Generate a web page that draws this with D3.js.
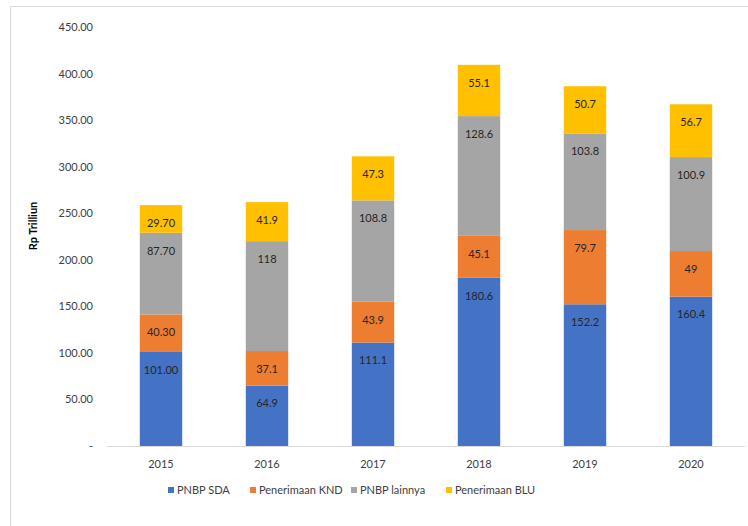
<!DOCTYPE html>
<html><head><meta charset="utf-8">
<script src="https://cdn.jsdelivr.net/npm/d3@7"></script>
<style>body{margin:0;background:#fff;}svg{display:block;font-family:Lato,"Liberation Sans",sans-serif;}</style>
</head><body>
<svg id="c" width="748" height="526"></svg>
<script>
const years = ["2015","2016","2017","2018","2019","2020"];
const seriesNames = ["PNBP SDA","Penerimaan KND","PNBP lainnya","Penerimaan BLU"];
const pnbpSDA = [101.0, 64.9, 111.1, 180.6, 152.2, 160.4];
const penerimaanKND = [40.3, 37.1, 43.9, 45.1, 79.7, 49];
const pnbpLainnya = [87.7, 118, 108.8, 128.6, 103.8, 100.9];
const penerimaanBLU = [29.7, 41.9, 47.3, 55.1, 50.7, 56.7];
const labelsSDA = ["101.00","64.9","111.1","180.6","152.2","160.4"];
const labelsKND = ["40.30","37.1","43.9","45.1","79.7","49"];
const labelsLainnya = ["87.70","118","108.8","128.6","103.8","100.9"];
const labelsBLU = ["29.70","41.9","47.3","55.1","50.7","56.7"];
const yTicks = [0,50,100,150,200,250,300,350,400,450];
const colors = ["#4472C4","#ED7D31","#A5A5A5","#FFC000"];

const svg = d3.select("#c");
svg.append("rect").attr("x",10.5).attr("y",6.5).attr("width",760).attr("height",540)
  .attr("fill","#fff").attr("stroke","#d9d9d9");

const x = d3.scaleBand().domain(years).range([108,744]).paddingInner(0.6).paddingOuter(0.3);
const y = d3.scaleLinear().domain([0,450]).range([446,27]);

const rows = years.map((yr,i)=>({year:yr, s0:pnbpSDA[i], s1:penerimaanKND[i], s2:pnbpLainnya[i], s3:penerimaanBLU[i]}));
const labels = [labelsSDA,labelsKND,labelsLainnya,labelsBLU];
const stack = d3.stack().keys(["s0","s1","s2","s3"])(rows);

// y axis
const yAxis = d3.axisLeft(y).tickValues(yTicks).tickSize(0).tickPadding(0)
  .tickFormat(d => d===0 ? "-" : d3.format(".2f")(d));
const gy = svg.append("g").attr("transform","translate(93,0)").call(yAxis);
gy.select(".domain").remove();
gy.selectAll("text").attr("font-size",11).attr("fill","#404040").attr("font-family","Lato,sans-serif");

svg.append("text").attr("transform","translate(37,226) rotate(-90)")
  .attr("text-anchor","middle").attr("font-size",11).attr("font-weight","bold")
  .attr("fill","#000").text("Rp Trilliun");

// bars
stack.forEach((layer,k)=>{
  const g = svg.append("g");
  g.selectAll("rect").data(layer).join("rect")
    .attr("x",d=>x(d.data.year)).attr("width",x.bandwidth())
    .attr("y",d=>y(d[1])).attr("height",d=>y(d[0])-y(d[1]))
    .attr("fill",colors[k]);
  g.selectAll("text").data(layer).join("text")
    .attr("x",d=>x(d.data.year)+x.bandwidth()/2)
    .attr("y",d=>y(d[1])+18)
    .attr("dy","0.35em").attr("text-anchor","middle")
    .attr("font-size",11).attr("fill","#262626")
    .text((d,i)=>labels[k][i]);
});

// x axis
const xAxis = d3.axisBottom(x).tickSize(0).tickPadding(14);
const gx = svg.append("g").attr("transform","translate(0,446)").call(xAxis);
gx.select(".domain").attr("stroke","#d9d9d9").attr("d","M107,0.5H745");
gx.selectAll("text").attr("font-size",11).attr("fill","#404040").attr("font-family","Lato,sans-serif");

// legend
const legX = [168,250,351,446];
const leg = svg.append("g");
seriesNames.forEach((n,i)=>{
  leg.append("rect").attr("x",legX[i]).attr("y",487).attr("width",6).attr("height",6).attr("fill",colors[i]);
  leg.append("text").attr("x",legX[i]+9).attr("y",490).attr("dy","0.35em")
    .attr("font-size",11).attr("fill","#404040").text(n);
});
</script>
</body></html>
